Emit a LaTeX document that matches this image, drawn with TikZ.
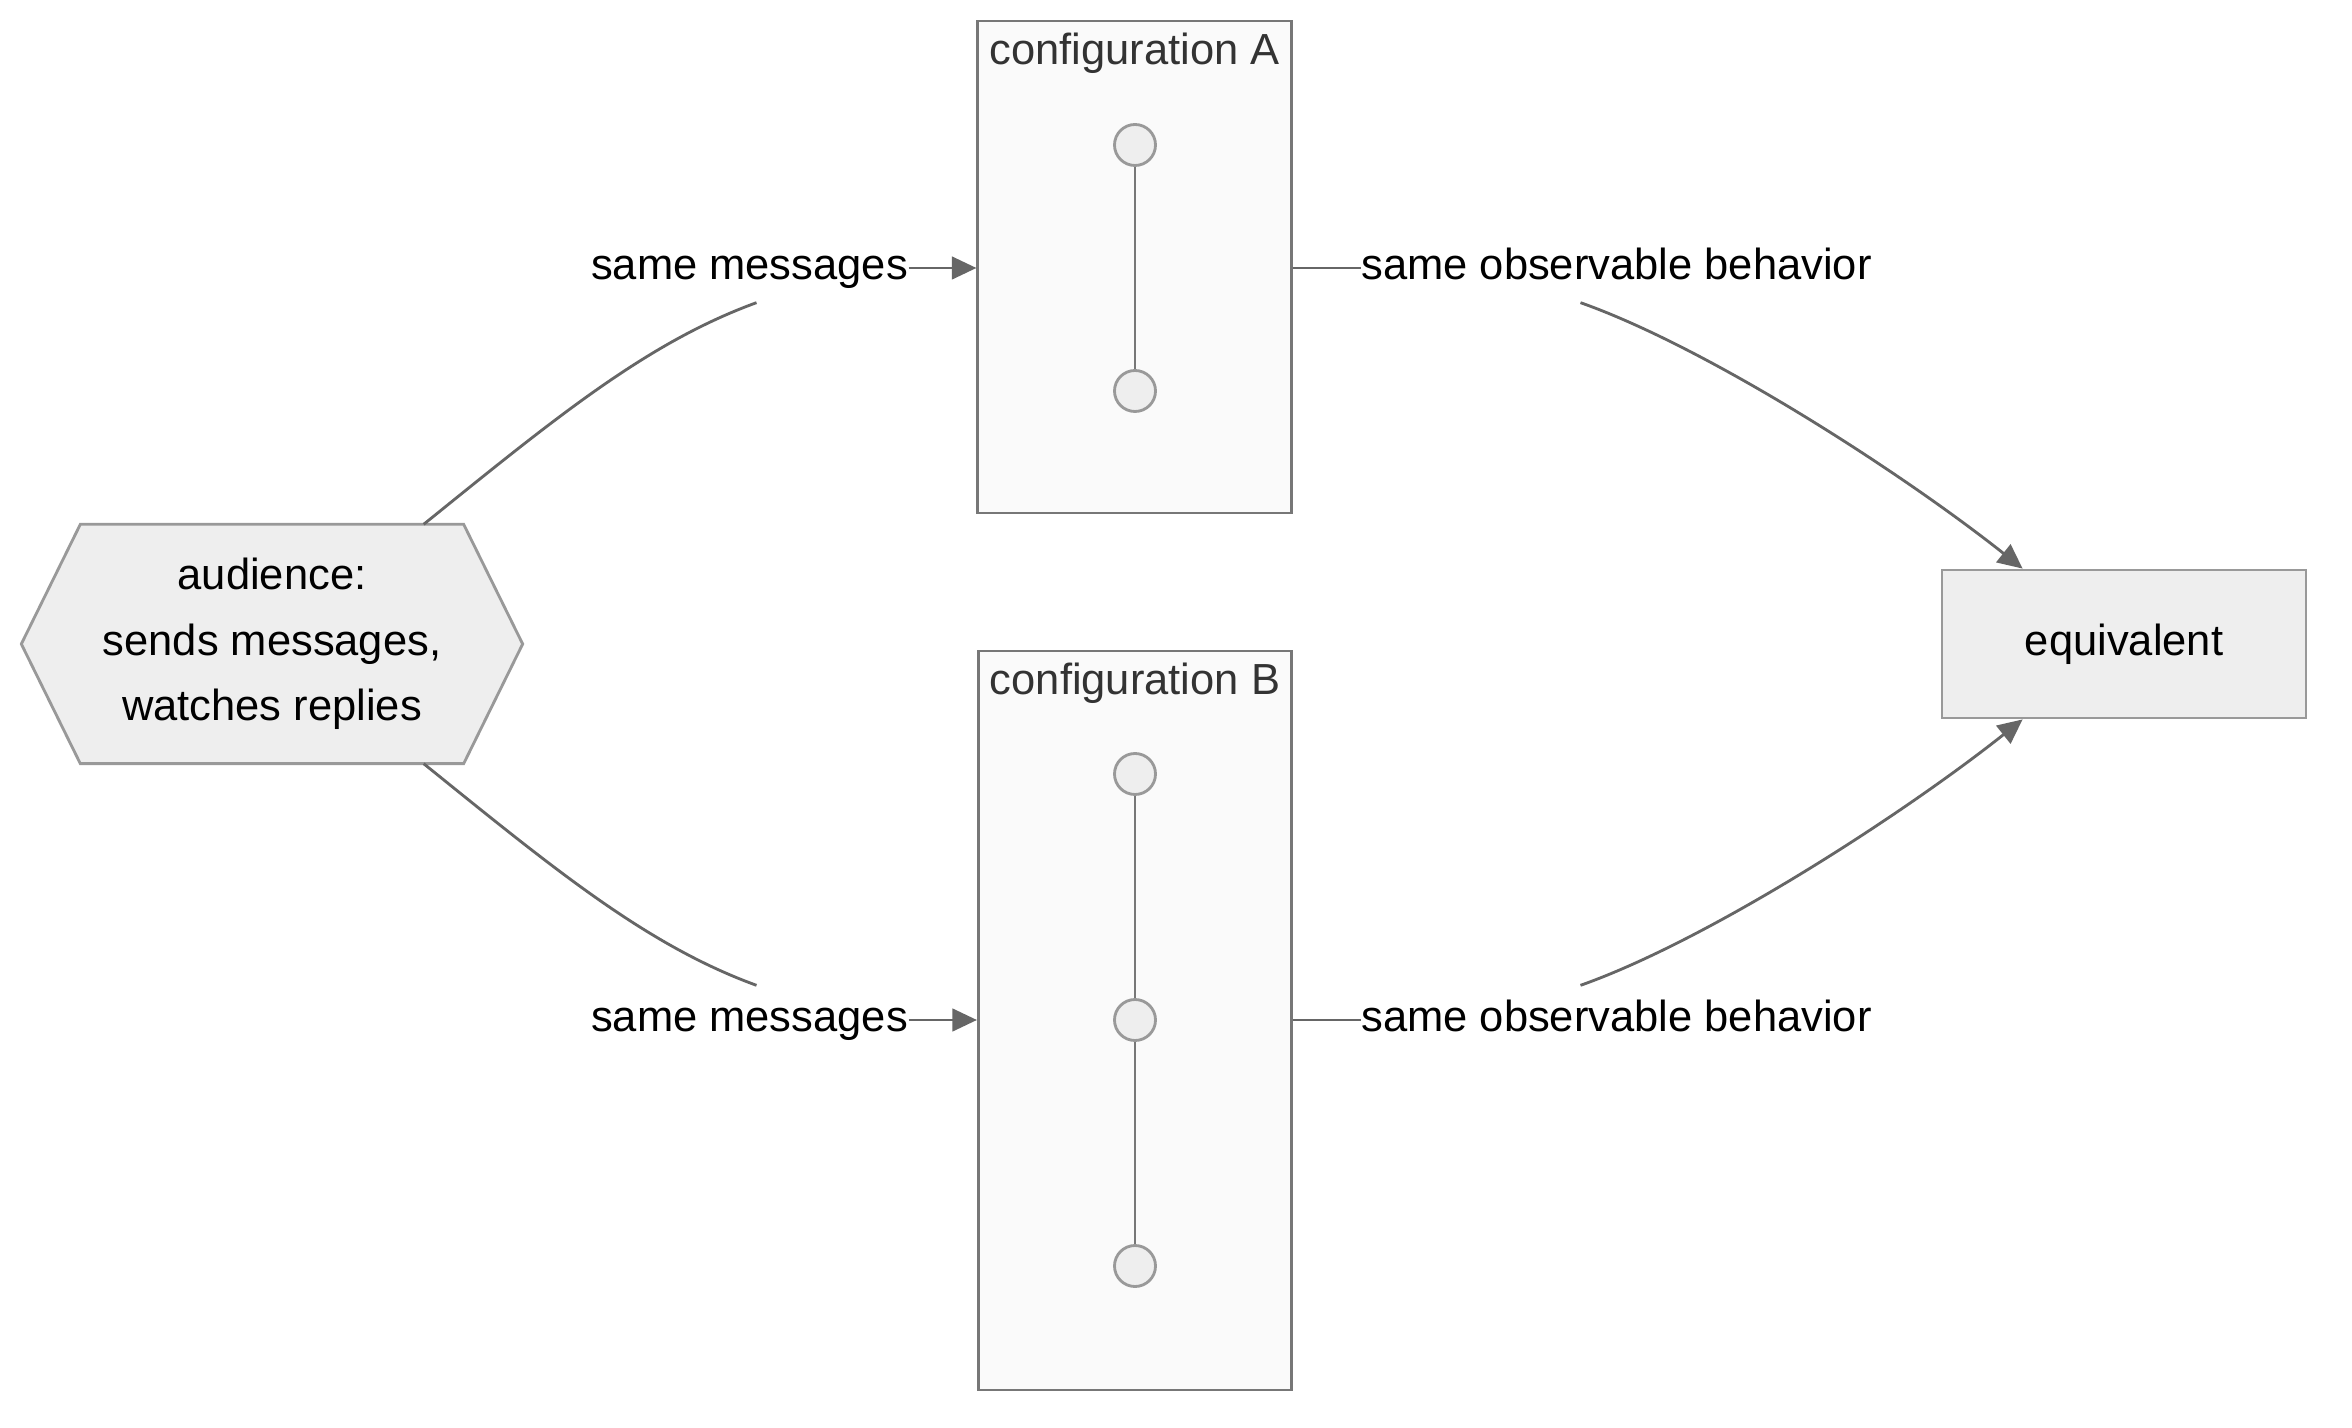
\documentclass[tikz,border=0pt]{standalone}
\usepackage{fontspec}
\setmainfont{Liberation Sans}
\usetikzlibrary{arrows.meta,calc}
\definecolor{edgec}{HTML}{666666}
\definecolor{clborder}{HTML}{777777}
\definecolor{clfill}{HTML}{FAFAFA}
\definecolor{nborder}{HTML}{999999}
\definecolor{nfill}{HTML}{EEEEEE}
\definecolor{titlec}{HTML}{333333}
\begin{document}
\begin{tikzpicture}[x=0.3pt,y=-0.3pt,
  font=\fontsize{13.05}{15.6}\selectfont,
  lbl/.style={inner sep=0pt, text height=13.8pt, text depth=6.6pt, text=black},
  edgeline/.style={draw=edgec, line width=0.85pt},
  arr/.style={edgeline, -{Triangle[length=7.4pt,width=6.8pt]}},
  cluster/.style={draw=clborder, fill=clfill, line width=0.85pt, inner sep=0pt, minimum width=94pt},
  cltitle/.style={inner sep=0pt, text=titlec, anchor=base},
  dot/.style={circle, draw=nborder, fill=nfill, line width=0.85pt, minimum size=12.3pt, inner sep=0pt},
  innerline/.style={draw=clborder, line width=0.85pt},
  hexline/.style={draw=nborder, fill=nfill, line width=0.85pt},
  eqbox/.style={draw=nborder, fill=nfill, line width=0.85pt, inner sep=0pt, minimum width=109.2pt, minimum height=44.4pt, text=black}
]
% canvas
\fill[white] (0,0) rectangle (2352,1428);
\useasboundingbox (0,0) rectangle (2352,1428);

% clusters
\node[cluster, minimum height=147.6pt] (cfgA) at (1134.5,267) {};
\node[cltitle] (tA) at (1134.5,65) {configuration A};
\node[cluster, minimum height=221.7pt] (cfgB) at (1135,1020.5) {};
\node[cltitle] (tB) at (1135,695) {configuration B};

% inner nodes
\node[dot] (a1) at (1135,145) {};
\node[dot] (a2) at (1135,391) {};
\draw[innerline] (a1) -- (a2);
\node[dot] (b1) at (1135,774) {};
\node[dot] (b2) at (1135,1020) {};
\node[dot] (b3) at (1135,1266) {};
\draw[innerline] (b1) -- (b2);
\draw[innerline] (b2) -- (b3);

% audience hexagon
\node[inner sep=0pt, minimum width=150pt, minimum height=71.4pt] (aud) at (272,644) {};
\draw[hexline] (aud.west) -- ($(aud.north west)+(59,0)$) -- ($(aud.north east)+(-59,0)$)
  -- (aud.east) -- ($(aud.south east)+(-59,0)$) -- ($(aud.south west)+(59,0)$) -- cycle;
\node[align=center, inner sep=0pt, font=\fontsize{13.05}{19.65}\selectfont, text=black] (audtxt) at (aud.center) {audience:\\sends messages,\\watches replies};

% equivalent
\node[eqbox] (eq) at (2124,644) {equivalent};

% edge labels
\node[lbl] (l1) at (749.5,268) {same messages};
\node[lbl] (l2) at (1616.5,268) {same observable behavior};
\node[lbl] (l3) at (749.5,1020) {same messages};
\node[lbl] (l4) at (1616.5,1020) {same observable behavior};

% edges audience -> configurations
\draw[edgeline] ($(aud.north east)+(-99,0)$) .. controls +(130,-105) and +(-110,40) .. ($(l1.south)+(7,0)$);
\draw[arr] (l1.east) -- (l1.east -| cfgA.west);
\draw[edgeline] ($(aud.south east)+(-99,0)$) .. controls +(130,105) and +(-110,-40) .. ($(l3.north)+(7,0)$);
\draw[arr] (l3.east) -- (l3.east -| cfgB.west);

% edges configurations -> equivalent
\draw[edgeline] (l2.west -| cfgA.east) -- (l2.west);
\draw[arr] ($(l2.south)+(-36,0)$) .. controls +(130,46) and +(-117,-93) .. ($(eq.north west)+(82,0)$);
\draw[edgeline] (l4.west -| cfgB.east) -- (l4.west);
\draw[arr] ($(l4.north)+(-36,0)$) .. controls +(130,-46) and +(-117,93) .. ($(eq.south west)+(82,0)$);
\end{tikzpicture}
\end{document}
